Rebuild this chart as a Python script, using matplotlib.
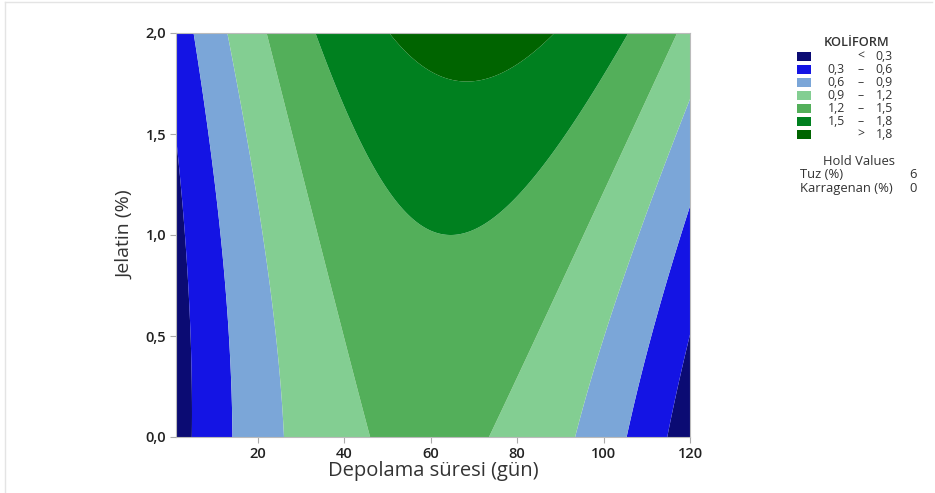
import numpy as np
import matplotlib
matplotlib.use("Agg")
import matplotlib.pyplot as plt
from matplotlib.patches import Rectangle
from matplotlib.lines import Line2D

# ---- data (fitted response surface) ----
x_range = [1, 120]          # Depolama süresi (gün)
y_range = [0.0, 2.0]        # Jelatin (%)
ridge_value = [1.26, 0.152, 0.088]  # peak KOLİFORM along ridge: c0 + c1*y + c2*y^2
ridge_center = [59.7, 4.9]          # x of ridge: m0 + m1*y
curvature = 3.17e-4                 # drop-off across x
levels = [0.3, 0.6, 0.9, 1.2, 1.5, 1.8]
legend_labels = ["<  0,3", "0,3  –  0,6", "0,6  –  0,9", "0,9  –  1,2",
                 "1,2  –  1,5", "1,5  –  1,8", ">  1,8"]
colors = ["#0B0B73", "#1414E4", "#7BA6D8", "#83CE92", "#53AF5A", "#00801F", "#006400"]
x_ticks = [20, 40, 60, 80, 100, 120]
y_ticks = [0.0, 0.5, 1.0, 1.5, 2.0]
y_ticklabels = ["0,0", "0,5", "1,0", "1,5", "2,0"]
hold_names = ["Tuz (%)", "Karragenan (%)"]
hold_values = ["6", "0"]

font = "Open Sans"
plt.rcParams['font.family'] = [font, 'DejaVu Sans']

W, H = 935, 493
fig = plt.figure(figsize=(W / 100, H / 100), dpi=100)
ax = fig.add_axes([176 / W, 1 - 437 / H, (690 - 176) / W, (437 - 33) / H])

xs = np.linspace(x_range[0], x_range[1], 500)
ys = np.linspace(y_range[0], y_range[1], 500)
X, Y = np.meshgrid(xs, ys)
zc = ridge_value[0] + ridge_value[1] * Y + ridge_value[2] * Y ** 2
m = ridge_center[0] + ridge_center[1] * Y
Z = zc - curvature * (X - m) ** 2

bounds = [-10] + levels + [10]
ax.contourf(X, Y, Z, levels=bounds, colors=colors, antialiased=True)

ax.set_xlim(x_range)
ax.set_ylim(y_range)
ax.set_xticks(x_ticks)
ax.set_xticklabels([str(t) for t in x_ticks], fontsize=10.5, fontweight='semibold', color='#222222')
ax.set_yticks(y_ticks)
ax.set_yticklabels(y_ticklabels, fontsize=10.5, fontweight='semibold', color='#222222')
ax.tick_params(direction='out', length=4, width=0.8, color='#AAAAAA', pad=3)
for s in ax.spines.values():
    s.set_color('#BBBBBB')
    s.set_linewidth(0.8)

ax.set_xlabel("Depolama süresi (gün)", fontsize=14.5, color='#333333', labelpad=0)
ax.set_ylabel("Jelatin (%)", fontsize=14, color='#333333', labelpad=8)

# legend
def fx(px):
    return px / W

def fy(py):
    return 1 - py / H

LFS = 8.8
TC = '#333333'
fig.text(fx(857), fy(43), "KOLİFORM", ha='center', va='center', fontsize=LFS + 0.4,
         fontweight='semibold', color=TC)
row0 = 56.5
dy = 13.0
for i, (lab, c) in enumerate(zip(legend_labels, colors)):
    yc = row0 + i * dy
    fig.patches.append(Rectangle((fx(797), fy(yc + 4.5)), 14 / W, 9 / H,
                                 transform=fig.transFigure, facecolor=c, edgecolor='none'))
    if i == 0 or i == len(legend_labels) - 1:
        sym = "<" if i == 0 else ">"
        val = lab.split()[-1]
        fig.text(fx(861), fy(yc), sym, ha='center', va='center', fontsize=LFS, color=TC)
        fig.text(fx(893), fy(yc), val, ha='right', va='center', fontsize=LFS, color=TC)
    else:
        a, _, b = lab.split()
        fig.text(fx(845), fy(yc), a, ha='right', va='center', fontsize=LFS, color=TC)
        fig.text(fx(861), fy(yc), "–", ha='center', va='center', fontsize=LFS, color=TC)
        fig.text(fx(893), fy(yc), b, ha='right', va='center', fontsize=LFS, color=TC)

fig.text(fx(859), fy(161), "Hold Values", ha='center', va='center', fontsize=LFS + 0.6, color=TC)
for j, (n, v) in enumerate(zip(hold_names, hold_values)):
    yc = 175 + j * 13.5
    fig.text(fx(800), fy(yc), n, ha='left', va='center', fontsize=LFS + 0.6, color=TC)
    fig.text(fx(913), fy(yc), v, ha='center', va='center', fontsize=LFS + 0.6, color=TC)

# faint outer frame (top and left)
fig.lines.append(Line2D([fx(5), fx(932)], [fy(2), fy(2)], transform=fig.transFigure,
                        color='#E4E4E4', linewidth=1))
fig.lines.append(Line2D([fx(5), fx(5)], [fy(2), fy(493)], transform=fig.transFigure,
                        color='#E4E4E4', linewidth=1))

fig.savefig("out.png", dpi=100, facecolor='white')
